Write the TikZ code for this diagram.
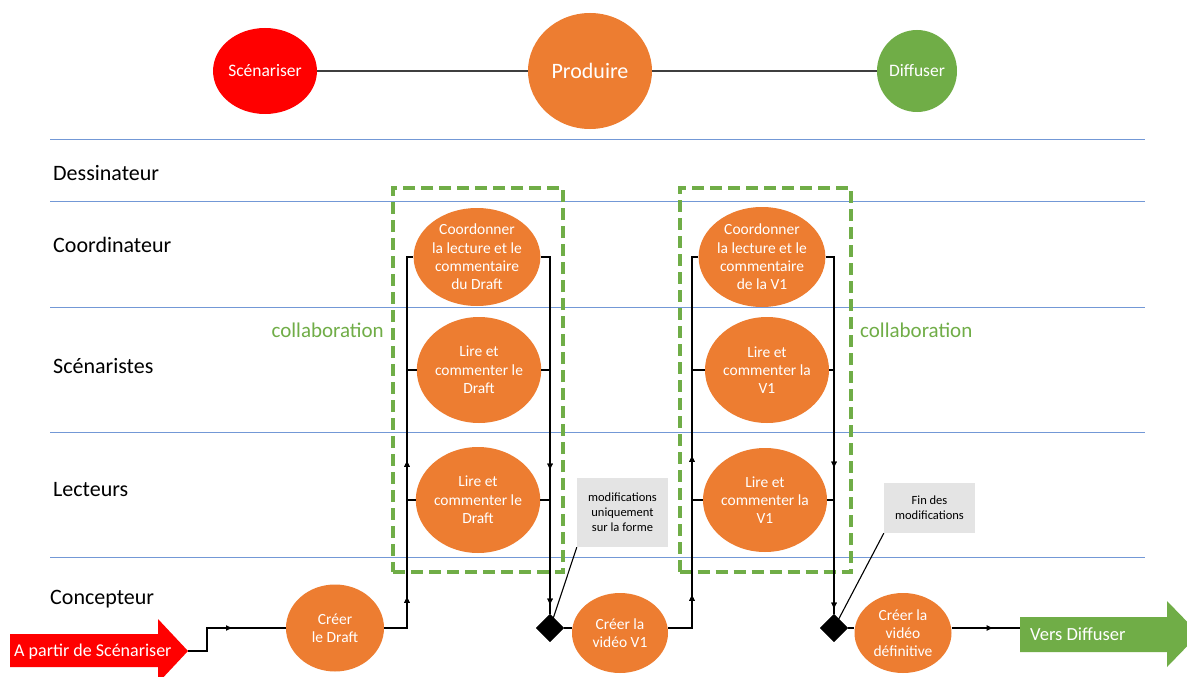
\documentclass[tikz,border=0pt]{standalone}
\usepackage{fontspec}
\setmainfont{Carlito}
\usetikzlibrary{shapes.geometric,decorations.markings,arrows.meta}
\definecolor{orng}{HTML}{ED7D31}
\definecolor{grn}{HTML}{70AD47}
\definecolor{lanec}{HTML}{7398D6}
\definecolor{callg}{HTML}{E4E4E4}
\definecolor{topline}{HTML}{3F3F3F}
\tikzset{
  lane/.style={draw=lanec, line width=0.9pt},
  lanelbl/.style={anchor=west, font=\fontsize{22}{26}\selectfont, inner sep=0pt},
  topn/.style={ellipse, inner sep=0pt, text=white},
  act/.style={ellipse, fill=orng, text=white, inner sep=0pt, align=center, font=\fontsize{15.5}{18.3}\selectfont},
  flow/.style={draw=black, line width=1.4pt},
  midarr/.style={postaction={decorate}, decoration={markings, mark=at position #1 with {\arrow{Latex[length=7pt,width=6pt]}}}},
  collab/.style={draw=grn, line width=4pt, dash pattern=on 12pt off 6pt, inner sep=0pt},
  collablbl/.style={text=grn, font=\fontsize{21}{25}\selectfont, inner sep=0pt},
  callbox/.style={fill=callg, align=center, inner sep=0pt, font=\fontsize{12.5}{15}\selectfont},
  gate/.style={diamond, fill=black, inner sep=0pt, minimum width=28, minimum height=28},
  calline/.style={draw=black, line width=1.1pt}
}
\begin{document}
\begin{tikzpicture}[x=1pt,y=-1pt]
\useasboundingbox (0,0) rectangle (1187,677);
\clip (0,0) rectangle (1187,677);
\fill[white] (0,0) rectangle (1187,677);

% lanes
\foreach \yy in {139,201,307,432,557} \draw[lane] (50,\yy) -- (1145,\yy);
\node[lanelbl] (ldes) at (53,173) {Dessinateur};
\node[lanelbl] (lcoo) at (53,245) {Coordinateur};
\node[lanelbl] (lsce) at (53,366) {Scénaristes};
\node[lanelbl] (llec) at (53,490) {Lecteurs};
\node[lanelbl] (lcon) at (50,599) {Concepteur};

% top phases
\node[topn, fill=red, minimum width=86, minimum height=86, font=\fontsize{17.5}{20}\selectfont] (scen) at (265,71) {Scénariser};
\node[topn, fill=orng, minimum width=124, minimum height=116, font=\fontsize{22}{26}\selectfont] (prod) at (590,71) {Produire};
\node[topn, fill=grn, minimum width=80, minimum height=82, font=\fontsize{17.5}{20}\selectfont] (diff) at (917,71) {Diffuser};
\draw[draw=topline, line width=2.5pt] (scen) -- (prod);
\draw[draw=topline, line width=2.5pt] (prod) -- (diff);

% collaboration boxes
\node[collab, minimum width=170, minimum height=384] (box1) at (478,380) {};
\node[collab, minimum width=171, minimum height=384] (box2) at (765,380) {};
\node[collablbl, anchor=east] (col1) at (384,330) {collaboration};
\node[collablbl, anchor=west] (col2) at (860,330) {collaboration};

% coordinates
\coordinate (redtip) at (188,651);
\coordinate (a1) at (207,651);
\coordinate (a2) at (207,628);
\coordinate (c1b) at (407,628);
\coordinate (c1c) at (407,257);
\coordinate (c1s) at (407,370);
\coordinate (c1l) at (407,500);
\coordinate (r1c) at (550,257);
\coordinate (r1s) at (550,370);
\coordinate (r1l) at (550,500);
\coordinate (c2b) at (692,628);
\coordinate (c2c) at (692,257);
\coordinate (c2s) at (692,370);
\coordinate (c2l) at (692,500);
\coordinate (r2c) at (834,257);
\coordinate (r2s) at (834,370);
\coordinate (r2l) at (834,500);
\coordinate (vtail) at (1020,628);

% activity nodes
\node[act, minimum width=112, minimum height=98] (coord1) at (477,257) {Coordonner\\la lecture et le\\commentaire\\du Draft};
\node[act, minimum width=118, minimum height=106] (lires1) at (479,370) {Lire et\\commenter le\\Draft};
\node[act, minimum width=110, minimum height=106] (lirel1) at (478,500) {Lire et\\commenter le\\Draft};
\node[act, minimum width=104, minimum height=100] (coord2) at (762,257) {Coordonner\\la lecture et le\\commentaire\\de la V1};
\node[act, minimum width=112, minimum height=106] (lires2) at (767,370) {Lire et\\commenter la\\V1};
\node[act, minimum width=110, minimum height=104] (lirel2) at (765,500) {Lire et\\commenter la\\V1};
\node[act, minimum width=98, minimum height=87] (draft) at (335,628) {Créer\\le Draft};
\node[act, minimum width=96, minimum height=80] (v1) at (620,633) {Créer la\\vidéo V1};
\node[act, minimum width=97, minimum height=80] (def) at (903,633) {Créer la\\vidéo\\définitive};
\node[gate] (dia1) at (550,628) {};
\node[gate] (dia2) at (834,628) {};

% red start arrow
\fill[red] (10,634) -- (158,634) -- (158,619) -- (redtip) -- (158,683) -- (158,667) -- (10,667) -- cycle;
\node[anchor=west, text=white, font=\fontsize{18}{21}\selectfont, inner sep=0pt] (start) at (14,652) {A partir de Scénariser};

% green end arrow
\fill[grn] (1020,617) -- (1167,617) -- (1167,601) -- (1199,634) -- (1167,667) -- (1167,652) -- (vtail |- 0,652) -- cycle;
\node[anchor=west, text=white, font=\fontsize{18.5}{22}\selectfont, inner sep=0pt] (vers) at (1030,634) {Vers Diffuser};

% flows
\draw[flow, midarr=68pt] (redtip) -- (a1) -- (a2) -- (draft.west);
\draw[flow, midarr=55pt, midarr=191pt] (draft.east) -- (c1b) -- (c1c) -- (coord1.west);
\draw[flow] (c1s) -- (lires1.west);
\draw[flow] (c1l) -- (lirel1.west);
\draw[flow, midarr=223pt, midarr=358pt] (coord1.east) -- (r1c) -- (dia1.north);
\draw[flow] (lires1.east) -- (r1s);
\draw[flow] (lirel1.east) -- (r1l);
\draw[flow] (dia1.east) -- (dia1.east -| v1.west);
\draw[flow, midarr=58pt, midarr=197pt] (v1.east |- c2b) -- (c2b) -- (c2c) -- (coord2.west);
\draw[flow] (c2s) -- (lires2.west);
\draw[flow] (c2l) -- (lirel2.west);
\draw[flow, midarr=220pt, midarr=361pt] (coord2.east) -- (r2c) -- (dia2.north);
\draw[flow] (lires2.east) -- (r2s);
\draw[flow] (lirel2.east) -- (r2l);
\draw[flow] (dia2.east) -- (dia2.east -| def.west);
\draw[flow, midarr=42pt] (def.east |- vtail) -- (vtail);

% callouts
\node[callbox, minimum width=91, minimum height=69] (call1) at (622.5,512.5) {modifications\\uniquement\\sur la forme};
\node[callbox, minimum width=91, minimum height=50] (call2) at (929.5,508) {Fin des\\modifications};
\draw[calline] (call1.south west) -- (dia1.center);
\draw[calline] (call2.south west) -- (dia2.center);
\node[gate] at (dia1) {};
\node[gate] at (dia2) {};
\end{tikzpicture}
\end{document}
